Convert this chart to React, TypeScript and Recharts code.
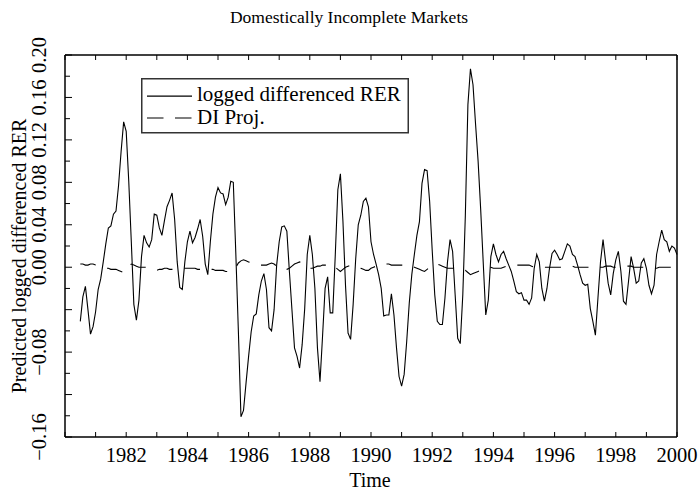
import { LineChart, Line, XAxis, YAxis, Legend } from 'recharts';

// monthly observations, first one is July 1980
const FIRST_OBS = 1980.5;

const loggedDiffRER = [
  -0.051, -0.028, -0.018, -0.04, -0.063, -0.056, // 1980 (Jul-Dec)
  -0.042, -0.021, -0.011, 0.005, 0.022, 0.037, 0.039, 0.05, 0.053, 0.077, 0.109, 0.137, // 1981
  0.128, 0.081, 0.024, -0.035, -0.05, -0.031, 0.01, 0.03, 0.023, 0.019, 0.026, 0.05, // 1982
  0.049, 0.037, 0.03, 0.044, 0.057, 0.063, 0.07, 0.045, 0.005, -0.019, -0.021, 0.005, // 1983
  0.024, 0.034, 0.023, 0.028, 0.036, 0.045, 0.029, 0.003, -0.007, 0.024, 0.05, 0.066, // 1984
  0.075, 0.07, 0.069, 0.059, 0.066, 0.081, 0.08, 0.012, -0.061, -0.141, -0.135, -0.109, // 1985
  -0.084, -0.061, -0.046, -0.044, -0.026, -0.013, -0.006, -0.021, -0.057, -0.06, -0.04, 0.002, // 1986
  0.024, 0.038, 0.039, 0.034, -0.004, -0.04, -0.076, -0.084, -0.095, -0.073, -0.039, 0.012, // 1987
  0.03, 0.012, -0.02, -0.076, -0.108, -0.065, -0.02, -0.009, -0.043, -0.043, 0.012, 0.073, // 1988
  0.088, 0.043, -0.017, -0.062, -0.068, -0.035, 0.008, 0.04, 0.049, 0.062, 0.065, 0.057, // 1989
  0.024, 0.012, 0.003, -0.007, -0.02, -0.046, -0.045, -0.045, -0.025, -0.045, -0.076, -0.103, // 1990
  -0.112, -0.101, -0.07, -0.034, -0.007, 0.012, 0.03, 0.043, 0.079, 0.092, 0.091, 0.062, // 1991
  0.016, -0.026, -0.051, -0.054, -0.054, -0.029, 0.005, 0.026, 0.015, -0.026, -0.067, -0.072, // 1992
  -0.026, 0.049, 0.153, 0.187, 0.172, 0.135, 0.1, 0.055, 0.005, -0.045, -0.031, 0.01, // 1993
  0.022, 0.012, 0.005, 0.012, 0.015, 0.008, 0.002, -0.004, -0.013, -0.023, -0.025, -0.024, // 1994
  -0.031, -0.031, -0.035, -0.029, -0.001, 0.012, 0.005, -0.02, -0.032, -0.02, -0.001, 0.013, // 1995
  0.016, 0.012, 0.007, 0.008, 0.015, 0.022, 0.02, 0.012, 0.01, 0.002, -0.007, -0.015, // 1996
  -0.017, -0.016, -0.039, -0.051, -0.064, -0.029, 0.005, 0.026, 0.005, -0.015, -0.026, -0.006, // 1997
  0.007, 0.015, -0.004, -0.032, -0.035, -0.013, 0.01, -0.001, -0.015, -0.013, 0.004, 0.008, // 1998
  -0.001, -0.017, -0.025, -0.017, 0.012, 0.024, 0.035, 0.026, 0.024, 0.015, 0.02, 0.018, // 1999
  0.012, // 2000
];

const diProj = [
  0.003, 0.003, 0.002, 0.002, 0.003, 0.003,
  0.002, 0.001, 0, -0.001, -0.001, -0.001, -0.002, -0.002, -0.002, -0.003, -0.004, -0.005,
  -0.002, 0.001, 0.003, 0.002, 0.001, 0, 0, 0, 0, -0.001, -0.002, -0.002,
  -0.003, -0.002, -0.002, -0.001, -0.001, -0.002, -0.002, -0.002, -0.002, -0.002, -0.001, -0.001,
  -0.001, -0.001, -0.001, -0.001, -0.002, -0.002, -0.001, -0.001, -0.001, -0.002, -0.002, -0.003,
  -0.003, -0.003, -0.003, -0.004, -0.004, -0.004, -0.003, 0, 0.004, 0.006, 0.007, 0.006,
  0.005, 0.004, 0.003, 0.002, 0.002, 0.002, 0.002, 0.002, 0.003, 0.004, 0.003, 0.001,
  -0.001, -0.001, -0.002, -0.002, -0.001, 0.001, 0.003, 0.004, 0.005, 0.004, 0.002, 0,
  -0.001, -0.001, 0, 0.001, 0.001, 0.002, 0.002, 0.002, 0.003, 0.002, 0, -0.002,
  -0.004, -0.002, 0, 0.001, 0.002, 0.002, 0.001, 0, -0.001, -0.002, -0.003, -0.003,
  -0.001, 0, 0.001, 0.002, 0.002, 0.002, 0.003, 0.003, 0.002, 0.002, 0.002, 0.002,
  0.002, 0.002, 0.002, 0.002, 0.001, 0, -0.001, -0.002, -0.003, -0.004, -0.002, 0,
  0.002, 0.003, 0.003, 0.002, 0.001, 0, -0.001, -0.001, -0.001, -0.001, -0.002, -0.002,
  -0.003, -0.003, -0.005, -0.007, -0.006, -0.005, -0.004, -0.003, -0.002, -0.001, 0, 0,
  -0.001, -0.001, -0.001, -0.001, 0, 0.001, 0.001, 0.002, 0.002, 0.002, 0.002, 0.002,
  0.002, 0.002, 0.002, 0.001, 0, 0, 0, 0, 0, 0, 0, 0,
  0, 0, 0, 0, 0.001, 0.001, 0.001, 0.001, 0, 0, 0, 0,
  0, 0, 0, 0, -0.001, -0.001, 0, 0, 0.001, 0.001, 0.001, 0,
  0, 0, 0.001, 0.001, 0.001, 0.001, 0.001, 0, 0, 0, 0, 0,
  0, -0.001, -0.001, -0.001, -0.001, 0, 0, 0, 0, 0, 0, 0,
  0,
];

const yearTicks = [
  1980, 1981, 1982, 1983, 1984, 1985, 1986, 1987, 1988, 1989, 1990,
  1991, 1992, 1993, 1994, 1995, 1996, 1997, 1998, 1999, 2000,
];
const yearLabels = [1982, 1984, 1986, 1988, 1990, 1992, 1994, 1996, 1998, 2000];

const yTicks = [
  -0.16, -0.14, -0.12, -0.1, -0.08, -0.06, -0.04, -0.02, 0,
  0.02, 0.04, 0.06, 0.08, 0.1, 0.12, 0.14, 0.16, 0.18, 0.2,
];
const yLabels = [-0.16, -0.08, 0, 0.04, 0.08, 0.12, 0.16, 0.2];
const yMajor = [-0.16, -0.12, -0.08, -0.04, 0, 0.04, 0.08, 0.12, 0.16, 0.2];

const data = loggedDiffRER.map((v, i) => ({
  t: FIRST_OBS + i / 12,
  rer: v,
  di: diProj[i],
}));

const FONT = "'Liberation Serif', 'Times New Roman', serif";
const TICK_FONT = 20.5;
const has = (list: number[], v: number) => list.some((l) => Math.abs(l - v) < 1e-9);
const fmtY = (v: number) => v.toFixed(2).replace('-', '\u2212');

const BottomTick = (props: any) => {
  const { x, y, payload } = props;
  return (
    <g>
      <line x1={x} x2={x} y1={y} y2={y - 5} stroke="#000" strokeWidth={1} />
      {has(yearLabels, payload.value) && (
        <text x={x} y={y + 25} textAnchor="middle" fontSize={TICK_FONT} fill="#000" fontFamily={FONT}>
          {payload.value}
        </text>
      )}
    </g>
  );
};

const TopTick = (props: any) => {
  const { x, y } = props;
  return <line x1={x} x2={x} y1={y} y2={y + 5} stroke="#000" strokeWidth={1} />;
};

const LeftTick = (props: any) => {
  const { x, y, payload } = props;
  const len = has(yMajor, payload.value) ? 7 : 5;
  return (
    <g>
      <line x1={x} x2={x + len} y1={y} y2={y} stroke="#000" strokeWidth={1} />
      {has(yLabels, payload.value) && (
        <text
          x={46}
          y={y}
          transform={`rotate(-90, 46, ${y})`}
          textAnchor="middle"
          fontSize={TICK_FONT}
          fill="#000"
          fontFamily={FONT}
        >
          {fmtY(payload.value)}
        </text>
      )}
    </g>
  );
};

const RightTick = (props: any) => {
  const { x, y } = props;
  return <line x1={x} x2={x - 5} y1={y} y2={y} stroke="#000" strokeWidth={1} />;
};

const LegendBox = () => (
  <svg width={269} height={56} style={{ display: 'block', fontFamily: FONT }}>
    <rect x={0.75} y={0.75} width={266.5} height={54} fill="#fff" stroke="#333" strokeWidth={1.5} />
    <line x1={6} x2={51} y1={18.2} y2={18.2} stroke="#000" strokeWidth={1.2} />
    <text x={56} y={22.6} fontSize={21} fill="#000">logged differenced RER</text>
    <line x1={6} x2={51} y1={40} y2={40} stroke="#000" strokeWidth={1.2} strokeDasharray="16.5 11.5" />
    <text x={56} y={46} fontSize={21} fill="#000">DI Proj.</text>
  </svg>
);

export default function App() {
  return (
    <div style={{ position: 'absolute', left: 0, top: 0, width: 698, height: 490, background: '#fff', fontFamily: FONT }}>
      <LineChart width={698} height={490} data={data} margin={{ top: 0, right: 0, bottom: 0, left: 0 }}>
        <XAxis
          xAxisId="b"
          dataKey="t"
          type="number"
          domain={[1980, 2000]}
          ticks={yearTicks}
          interval={0}
          height={53}
          tickSize={0}
          tickMargin={0}
          tickLine={false}
          tick={BottomTick}
          axisLine={{ stroke: '#000', strokeWidth: 1.5 }}
          label={() => (
            <text x={370} y={487} textAnchor="middle" fontSize={20} fill="#000" fontFamily={FONT}>
              Time
            </text>
          )}
        />
        <XAxis
          xAxisId="t"
          orientation="top"
          dataKey="t"
          type="number"
          domain={[1980, 2000]}
          ticks={yearTicks}
          interval={0}
          height={55}
          tickSize={0}
          tickMargin={0}
          tickLine={false}
          tick={TopTick}
          axisLine={{ stroke: '#000', strokeWidth: 1.5 }}
          label={() => (
            <text x={349} y={23} textAnchor="middle" fontSize={17.5} fill="#000" fontFamily={FONT}>
              Domestically Incomplete Markets
            </text>
          )}
        />
        <YAxis
          yAxisId="l"
          type="number"
          domain={[-0.16, 0.2]}
          ticks={yTicks}
          interval={0}
          width={65}
          tickSize={0}
          tickMargin={0}
          tickLine={false}
          tick={LeftTick}
          axisLine={{ stroke: '#000', strokeWidth: 1.5 }}
          label={() => (
            <text
              x={25.5}
              y={256}
              transform="rotate(-90, 25.5, 256)"
              textAnchor="middle"
              fontSize={20}
              fill="#000"
              fontFamily={FONT}
            >
              Predicted logged differenced RER
            </text>
          )}
        />
        <YAxis
          yAxisId="r"
          orientation="right"
          type="number"
          domain={[-0.16, 0.2]}
          ticks={yTicks}
          interval={0}
          width={21}
          tickSize={0}
          tickMargin={0}
          tickLine={false}
          tick={RightTick}
          axisLine={{ stroke: '#000', strokeWidth: 1.5 }}
        />
        <Legend
          layout="vertical"
          align="center"
          verticalAlign="middle"
          content={() => <LegendBox />}
          wrapperStyle={{ left: 141, top: 78, width: 269, height: 56 }}
        />
        <Line
          xAxisId="b"
          yAxisId="l"
          type="linear"
          dataKey="di"
          name="DI Proj."
          stroke="#000"
          strokeWidth={1.1}
          strokeDasharray="16 12"
          dot={false}
          activeDot={false}
          isAnimationActive={false}
        />
        <Line
          xAxisId="b"
          yAxisId="l"
          type="linear"
          dataKey="rer"
          name="logged differenced RER"
          stroke="#000"
          strokeWidth={1.1}
          dot={false}
          activeDot={false}
          isAnimationActive={false}
        />
      </LineChart>
    </div>
  );
}
